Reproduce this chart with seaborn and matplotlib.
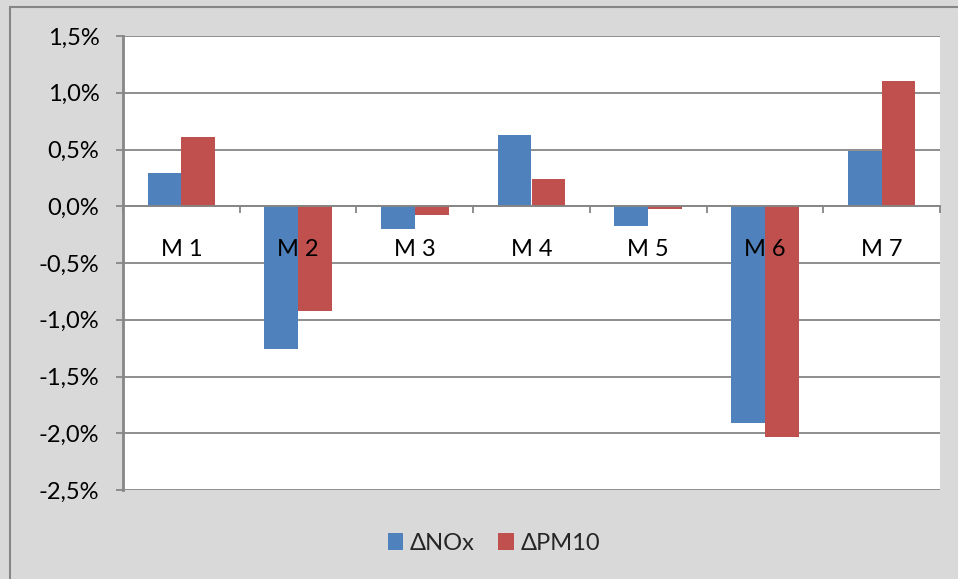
import matplotlib
matplotlib.use("Agg")
import matplotlib.pyplot as plt
import matplotlib.ticker as mticker
from matplotlib.patches import Rectangle, Patch
import pandas as pd
import seaborn as sns

categories = ["M 1", "M 2", "M 3", "M 4", "M 5", "M 6", "M 7"]
series_names = ["ΔNOx", "ΔPM10"]
nox = [0.29, -1.26, -0.20, 0.625, -0.17, -1.91, 0.49]
pm10 = [0.61, -0.925, -0.08, 0.24, -0.025, -2.03, 1.10]
yticks = [-2.5, -2.0, -1.5, -1.0, -0.5, 0.0, 0.5, 1.0, 1.5]

df = pd.DataFrame({
    "cat": categories * 2,
    "series": [series_names[0]] * len(categories) + [series_names[1]] * len(categories),
    "value": nox + pm10,
})

BLUE = "#4F81BD"
RED = "#C0504D"
GRID = "#868686"
BG = "#D9D9D9"
FONT = ["Lato", "DejaVu Sans"]
FS = 17

sns.set_style("white")
plt.rcParams["font.family"] = FONT

W, H = 958, 579
fig = plt.figure(figsize=(W / 100, H / 100), dpi=100)
fig.patch.set_facecolor(BG)

# outer chart border (only left & top visible)
fig.add_artist(Rectangle((10 / W, -0.1), 1.2, 1 - 7 / H + 0.1, transform=fig.transFigure,
                         fill=False, edgecolor=GRID, linewidth=1.5))

left, right, top, bottom = 123, 940, 36, 490
ax = fig.add_axes([left / W, 1 - bottom / H, (right - left) / W, (bottom - top) / H])
ax.set_facecolor("white")

sns.barplot(data=df, x="cat", y="value", hue="series", order=categories,
            hue_order=series_names, palette=[BLUE, RED], width=0.58, gap=0,
            saturation=1, ax=ax, legend=False, errorbar=None)
for p in ax.patches:
    p.set_edgecolor("none")

ax.set_ylim(-2.5, 1.5)
ax.set_xlim(-0.5, len(categories) - 0.5)
ax.set_yticks(yticks)
ax.yaxis.set_major_formatter(mticker.FuncFormatter(lambda v, _: f"{v:.1f}%".replace(".", ",")))
ax.set_xlabel("")
ax.set_ylabel("")

ax.yaxis.grid(True, color=GRID, linewidth=1.3)
ax.set_axisbelow(True)
ax.tick_params(axis="y", which="major", direction="out", length=5, width=1.3, color=GRID,
               labelsize=FS, labelcolor="black", pad=12, left=True)

# category axis at zero
ax.spines["bottom"].set_position(("data", 0))
ax.spines["bottom"].set_color(GRID)
ax.spines["bottom"].set_linewidth(1.3)
ax.spines["bottom"].set_zorder(3)
ax.set_xticks([i + 0.5 for i in range(-1, len(categories))])
ax.set_xticklabels([])
ax.tick_params(axis="x", which="major", direction="out", length=5, width=1.3, color=GRID, bottom=True)

ax.spines["left"].set_color(GRID)
ax.spines["left"].set_linewidth(2)
ax.spines["top"].set_visible(False)
ax.spines["right"].set_visible(False)

for i, c in enumerate(categories):
    ax.text(i, -0.38, c, ha="center", va="center", fontsize=FS, color="black", zorder=5)

handles = [Patch(facecolor=BLUE, edgecolor="none"), Patch(facecolor=RED, edgecolor="none")]
fig.legend(handles, series_names, loc="center", bbox_to_anchor=(494 / W, 1 - 543 / H),
           ncol=2, frameon=False, fontsize=FS, handlelength=0.65, handleheight=0.7,
           handletextpad=0.28, columnspacing=1.0, borderpad=0, borderaxespad=0)

fig.savefig("out.png", dpi=100, facecolor=BG)
